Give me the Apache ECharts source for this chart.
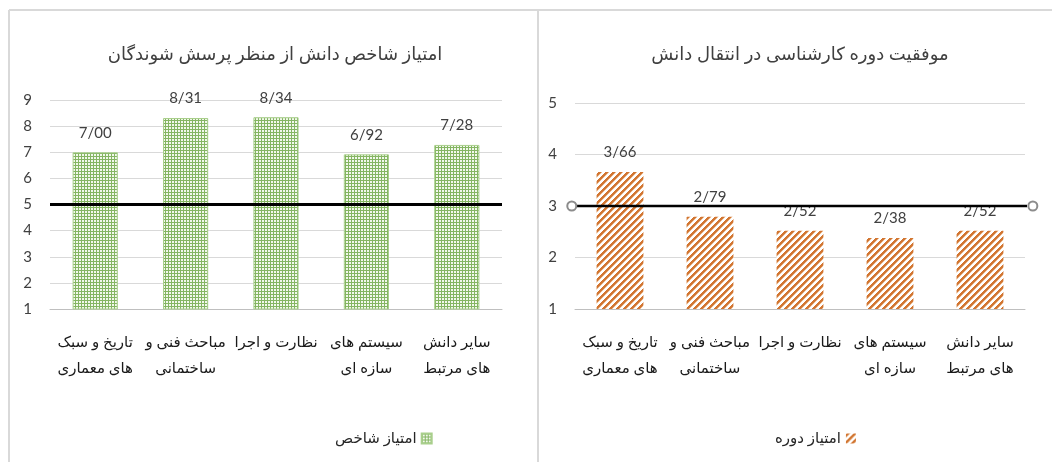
<!DOCTYPE html>
<html>
<head>
<meta charset="utf-8">
<script src="https://cdn.jsdelivr.net/npm/echarts@6/dist/echarts.min.js"></script>
<style>
html,body{margin:0;padding:0;background:#fff;}
#c{width:1052px;height:462px;}
</style>
</head>
<body>
<div id="c"></div>
<script>
// ---- data ----
const categories = [
  'تاریخ و سبک\nهای معماری',
  'مباحث فنی و\nساختمانی',
  'نظارت و اجرا',
  'سیستم های\nسازه ای',
  'سایر دانش\nهای مرتبط'
];
const leftTitle = 'امتیاز شاخص دانش از منظر پرسش شوندگان';
const rightTitle = 'موفقیت دوره کارشناسی در انتقال دانش';
const leftSeriesName = 'امتیاز شاخص';
const rightSeriesName = 'امتیاز دوره';
const leftValues = [7.00, 8.31, 8.34, 6.92, 7.28];
const rightValues = [3.66, 2.79, 2.52, 2.38, 2.52];
const leftThreshold = 5;
const rightThreshold = 3;
const leftTicks = [1, 9];
const rightTicks = [1, 5];

// ---- patterns ----
function gridPattern() {
  const c = document.createElement('canvas');
  c.width = 3; c.height = 3;
  const g = c.getContext('2d');
  g.fillStyle = '#f2f8ec'; g.fillRect(0, 0, 3, 3);
  g.fillStyle = '#84b562';
  g.fillRect(0, 0, 3, 1);
  g.fillRect(0, 0, 1, 3);
  return c;
}
function stripePattern() {
  const n = 7;
  const c = document.createElement('canvas');
  c.width = n; c.height = n;
  const g = c.getContext('2d');
  const img = g.createImageData(n, n);
  for (let y = 0; y < n; y++) for (let x = 0; x < n; x++) {
    const i = (y * n + x) * 4;
    const k = (x + y) % n;
    let r = 255, gg = 255, b = 255;
    if (k < 3) { r = 210; gg = 118; b = 50; }
    else if (k === 3) { r = 236; gg = 190; b = 150; }
    img.data[i] = r; img.data[i + 1] = gg; img.data[i + 2] = b; img.data[i + 3] = 255;
  }
  g.putImageData(img, 0, 0);
  return c;
}
const greenFill = { image: gridPattern(), repeat: 'repeat' };
const orangeFill = { image: stripePattern(), repeat: 'repeat' };

const FONT = "Lato, 'DejaVu Sans', sans-serif";
const fmt = p => p.value.toFixed(2).replace('.', '/');

const chart = echarts.init(document.getElementById('c'));
chart.setOption({
  animation: false,
  textStyle: { fontFamily: FONT },
  graphic: [
    { type: 'line', shape: { x1: 9, y1: 10, x2: 1052, y2: 10 }, style: { stroke: '#d9d9d9', lineWidth: 2 } },
    { type: 'line', shape: { x1: 9, y1: 10, x2: 9, y2: 462 }, style: { stroke: '#d9d9d9', lineWidth: 2 } },
    { type: 'line', shape: { x1: 538, y1: 10, x2: 538, y2: 462 }, style: { stroke: '#d9d9d9', lineWidth: 2 } }
  ],
  title: [
    { text: leftTitle, left: 270, top: 40, textAlign: 'center',
      textStyle: { fontFamily: FONT, fontSize: 18, fontWeight: 'normal', color: '#404040' } },
    { text: rightTitle, left: 795, top: 40, textAlign: 'center',
      textStyle: { fontFamily: FONT, fontSize: 18, fontWeight: 'normal', color: '#404040' } }
  ],
  legend: [
    { data: [leftSeriesName], left: 330, top: 426, align: 'right', itemWidth: 10, itemHeight: 10, itemGap: 5,
      icon: 'rect', textStyle: { fontFamily: FONT, fontSize: 15, color: '#262626' } },
    { data: [rightSeriesName], left: 770, top: 426, align: 'right', itemWidth: 10, itemHeight: 10, itemGap: 5,
      icon: 'rect', textStyle: { fontFamily: FONT, fontSize: 15, color: '#262626' } }
  ],
  grid: [
    { left: 50, right: 550, top: 100, bottom: 153 },
    { left: 575, right: 27, top: 103, bottom: 153 }
  ],
  xAxis: [
    { type: 'category', gridIndex: 0, data: categories,
      axisLine: { lineStyle: { color: '#bfbfbf', width: 1 } }, axisTick: { show: false },
      axisLabel: { interval: 0, color: '#1a1a1a', fontSize: 15, lineHeight: 26, margin: 20, fontFamily: FONT } },
    { type: 'category', gridIndex: 1, data: categories,
      axisLine: { lineStyle: { color: '#bfbfbf', width: 1 } }, axisTick: { show: false },
      axisLabel: { interval: 0, color: '#1a1a1a', fontSize: 15, lineHeight: 26, margin: 20, fontFamily: FONT } },
    { type: 'value', gridIndex: 1, min: 0.007, max: 0.983, show: false }
  ],
  yAxis: [
    { type: 'value', gridIndex: 0, min: leftTicks[0], max: leftTicks[1], interval: 1,
      axisLine: { show: false }, axisTick: { show: false },
      splitLine: { lineStyle: { color: '#d9d9d9', width: 1 } },
      axisLabel: { color: '#404040', fontSize: 15, margin: 18, fontFamily: FONT } },
    { type: 'value', gridIndex: 1, min: rightTicks[0], max: rightTicks[1], interval: 1,
      axisLine: { show: false }, axisTick: { show: false },
      splitLine: { lineStyle: { color: '#d9d9d9', width: 1 } },
      axisLabel: { color: '#404040', fontSize: 15, margin: 18, fontFamily: FONT } }
  ],
  series: [
    { name: leftSeriesName, type: 'bar', xAxisIndex: 0, yAxisIndex: 0, data: leftValues,
      barCategoryGap: '50%',
      itemStyle: { color: greenFill, borderColor: '#a9cf8c', borderWidth: 1 },
      label: { show: true, position: 'top', distance: 12, formatter: fmt,
        color: '#404040', fontSize: 15, fontFamily: FONT },
      markLine: { silent: true, symbol: ['none', 'none'], label: { show: false },
        lineStyle: { color: '#000', width: 3, type: 'solid' },
        data: [{ yAxis: leftThreshold }] } },
    { name: rightSeriesName, type: 'bar', xAxisIndex: 1, yAxisIndex: 1, data: rightValues,
      barCategoryGap: '48%',
      itemStyle: { color: orangeFill },
      label: { show: true, position: 'top', distance: 12, formatter: fmt,
        color: '#404040', fontSize: 15, fontFamily: FONT } },
    { name: 'threshold', type: 'line', xAxisIndex: 2, yAxisIndex: 1,
      data: [[0, rightThreshold], [1, rightThreshold]],
      symbol: 'emptyCircle', symbolSize: 9, showSymbol: true, showAllSymbol: true, clip: false, z: 5,
      itemStyle: { color: '#8c8c8c', borderColor: '#8c8c8c', borderWidth: 1.5 },
      lineStyle: { color: '#000', width: 2.5 }, silent: true }
  ]
});
</script>
</body>
</html>
